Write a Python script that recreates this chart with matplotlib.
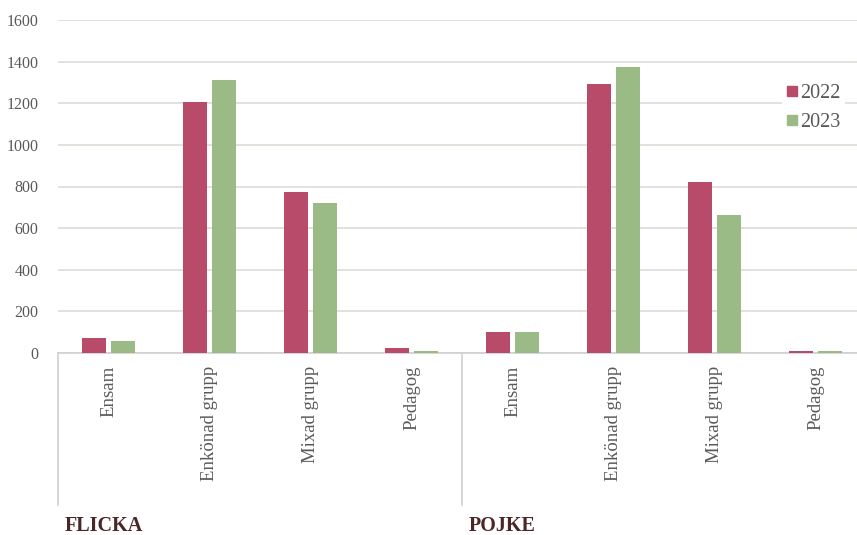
import matplotlib.pyplot as plt
import matplotlib.transforms as mtransforms
from matplotlib.lines import Line2D
import numpy as np

plt.rcParams['font.family'] = ['Liberation Serif', 'DejaVu Serif']

groups = ["FLICKA", "POJKE"]
categories = ["Ensam", "Enkönad grupp", "Mixad grupp", "Pedagog"]
years = ["2022", "2023"]
values_2022 = [72, 1205, 774, 22, 101, 1293, 821, 12]
values_2023 = [60, 1312, 721, 10, 101, 1376, 664, 12]
yticks = [0, 200, 400, 600, 800, 1000, 1200, 1400, 1600]

red = "#b94b6a"
green = "#9bbb86"
grid_col = "#dedbd6"
text_col = "#595959"
group_col = "#4b2626"

W, H = 857, 535
fig = plt.figure(figsize=(W / 100, H / 100), dpi=100)
ax = fig.add_axes([58 / W, (H - 353) / H, 808 / W, 333 / H])

labels = categories * len(groups)
x = np.arange(len(labels))
bw = 0.238
off = 0.145
ax.bar(x - off, values_2022, bw, color=red, zorder=3)
ax.bar(x + off, values_2023, bw, color=green, zorder=3)

ax.set_xlim(-0.5, len(labels) - 0.5)
ax.set_ylim(0, 1600)
ax.set_yticks(yticks)
ax.set_yticklabels([str(v) for v in yticks], fontsize=11.5, color=text_col)
ax.yaxis.grid(True, color=grid_col, linewidth=1.2, zorder=0)
ax.set_axisbelow(True)
for s in ["top", "right", "left"]:
    ax.spines[s].set_visible(False)
ax.spines["bottom"].set_color("#d0d0d0")
ax.spines["bottom"].set_linewidth(1.2)
ax.tick_params(axis="y", length=0, pad=14)
ax.tick_params(axis="x", length=0, pad=9)
ax.set_xticks(x)
ax.set_xticklabels(labels, rotation=90, fontsize=13.5, color=text_col)

# group separators under the axis
trans = mtransforms.blended_transform_factory(ax.transData, ax.transAxes)
sep_bottom = -152 / 333
for xs in [-0.5, 3.5, 7.5]:
    ax.add_line(Line2D([xs, xs], [0, sep_bottom], transform=trans,
                       color="#d0d0d0", linewidth=1.2, clip_on=False))

# group names
for i, g in enumerate(groups):
    ax.text(i * 4 - 0.43, -178 / 333, g, transform=trans, fontsize=14.5,
            fontweight="bold", color=group_col, ha="left", va="baseline")

handles = [Line2D([], [], marker="s", linestyle="none", markersize=7,
                  color=c) for c in (red, green)]
leg = fig.legend(handles, years, loc="upper left",
                 bbox_to_anchor=(772 / W, (H - 70) / H), frameon=True,
                 facecolor="white", edgecolor="none", framealpha=1,
                 fontsize=14.5, handlelength=0.6, handletextpad=0.1,
                 labelspacing=0.5, borderpad=0.2)
for t in leg.get_texts():
    t.set_color(text_col)

fig.savefig("out.png", dpi=100)
